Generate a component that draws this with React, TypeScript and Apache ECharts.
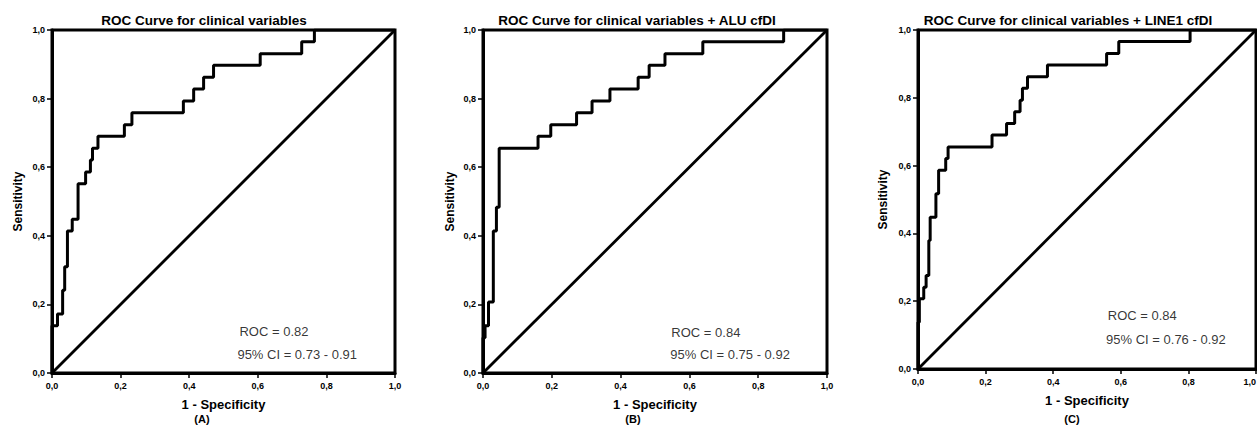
import React, { useEffect, useRef } from "react";
import * as echarts from "echarts";

// ---------- data ----------
const panelTitles = [
  "ROC Curve for clinical variables",
  "ROC Curve for clinical variables + ALU cfDI",
  "ROC Curve for clinical variables + LINE1 cfDI",
];
const panelLetters = ["(A)", "(B)", "(C)"];
const rocTexts = ["ROC = 0.82", "ROC = 0.84", "ROC = 0.84"];
const ciTexts = ["95% CI = 0.73 - 0.91", "95% CI = 0.75 - 0.92", "95% CI = 0.76 - 0.92"];
const tickValues = [0, 0.2, 0.4, 0.6, 0.8, 1.0];

// 1 - Specificity (x) where each rise happens, and Sensitivity (y) after the rise
const fprA = [0, 0, 0.016, 0.031, 0.037, 0.045, 0.059, 0.076, 0.098, 0.112, 0.118, 0.134, 0.211, 0.233, 0.383, 0.413, 0.442, 0.471, 0.607, 0.728, 0.765, 1.0];
const tprA = [0, 0.138, 0.172, 0.241, 0.310, 0.414, 0.448, 0.552, 0.586, 0.621, 0.655, 0.690, 0.724, 0.759, 0.793, 0.828, 0.862, 0.897, 0.931, 0.966, 1.0, 1.0];

const fprB = [0, 0, 0.006, 0.016, 0.030, 0.039, 0.047, 0.160, 0.197, 0.272, 0.317, 0.369, 0.451, 0.483, 0.529, 0.639, 0.874, 1.0];
const tprB = [0, 0.103, 0.138, 0.207, 0.414, 0.483, 0.655, 0.690, 0.724, 0.759, 0.793, 0.828, 0.862, 0.897, 0.931, 0.966, 1.0, 1.0];

const fprC = [0, 0, 0.004, 0.017, 0.024, 0.032, 0.036, 0.053, 0.061, 0.082, 0.089, 0.219, 0.262, 0.286, 0.302, 0.309, 0.324, 0.383, 0.558, 0.594, 0.805, 1.0];
const tprC = [0, 0.138, 0.207, 0.241, 0.276, 0.379, 0.448, 0.517, 0.586, 0.621, 0.655, 0.690, 0.724, 0.759, 0.793, 0.828, 0.862, 0.897, 0.931, 0.966, 1.0, 1.0];

const refLineX = [0, 1];
const refLineY = [0, 1];

// annotation anchors (data coords)
const rocAnchors = [[0.548, 0.12], [0.549, 0.117], [0.563, 0.156]];
const ciAnchors = [[0.542, 0.052], [0.546, 0.052], [0.558, 0.086]];

// ---------- layout ----------
const grids = [
  { left: 52, top: 30, width: 343, height: 343 },
  { left: 483, top: 30, width: 344, height: 343 },
  { left: 918, top: 30, width: 338, height: 339 },
];
const titleCenters = [199, 632, 1063];
const letterCenters = [202, 633, 1072];
const yNameGaps = [28, 27, 29];
const alignMax = [undefined, undefined, "right"];

const FONT = "'Liberation Sans', Arial, Helvetica, sans-serif";

const curves = [
  { x: fprA, y: tprA },
  { x: fprB, y: tprB },
  { x: fprC, y: tprC },
];

function fmt(v: number) {
  return v.toFixed(1).replace(".", ",");
}

export default function App() {
  const ref = useRef<HTMLDivElement | null>(null);

  useEffect(() => {
    if (!ref.current) return;
    const chart = echarts.init(ref.current, null, { renderer: "svg" });

    const xAxis: any[] = [];
    const yAxis: any[] = [];
    const series: any[] = [];
    const title: any[] = [];
    const graphic: any[] = [];

    grids.forEach((g, i) => {
      title.push({
        text: panelTitles[i],
        left: titleCenters[i],
        top: 8,
        textAlign: "center",
        textStyle: { fontFamily: FONT, fontSize: 13.5, fontWeight: "bold", color: "#000" },
      });
      const axisCommon = {
        type: "value",
        min: 0,
        max: 1,
        interval: 0.2,
        gridIndex: i,
        splitLine: { show: false },
        axisLine: { show: true, lineStyle: { color: "#000", width: 3 } },
        axisTick: { show: true, length: 5, lineStyle: { color: "#000", width: 1.5 } },
        axisLabel: {
          formatter: (v: number) => fmt(v),
          fontFamily: FONT,
          fontSize: 9,
          fontWeight: "bold",
          color: "#000",
          showMinLabel: true,
          showMaxLabel: true,
        },
        nameLocation: "middle",
        nameTextStyle: { fontFamily: FONT, fontWeight: "bold", color: "#000" },
      };
      const xLabel: any = { ...axisCommon.axisLabel, margin: 8 };
      if (alignMax[i]) xLabel.alignMaxLabel = alignMax[i];
      xAxis.push({
        ...axisCommon,
        position: "bottom",
        name: "1 - Specificity",
        nameGap: 25,
        nameTextStyle: { ...axisCommon.nameTextStyle, fontSize: 13 },
        axisLabel: xLabel,
      });
      yAxis.push({
        ...axisCommon,
        position: "left",
        name: "Sensitivity",
        nameGap: yNameGaps[i],
        nameTextStyle: { ...axisCommon.nameTextStyle, fontSize: 12 },
        axisLabel: { ...axisCommon.axisLabel, margin: 7 },
      });

      const c = curves[i];
      series.push({
        type: "line",
        xAxisIndex: i,
        yAxisIndex: i,
        step: "end",
        showSymbol: false,
        symbol: "none",
        data: c.x.map((x, k) => [x, c.y[k]]),
        lineStyle: { color: "#000", width: 3 },
        z: 3,
      });
      series.push({
        type: "line",
        xAxisIndex: i,
        yAxisIndex: i,
        showSymbol: false,
        symbol: "none",
        data: refLineX.map((x, k) => [x, refLineY[k]]),
        lineStyle: { color: "#000", width: 2.8 },
        z: 2,
      });
      [
        { a: rocAnchors[i], t: rocTexts[i] },
        { a: ciAnchors[i], t: ciTexts[i] },
      ].forEach((ann) => {
        series.push({
          type: "scatter",
          xAxisIndex: i,
          yAxisIndex: i,
          symbolSize: 1,
          itemStyle: { color: "rgba(0,0,0,0)" },
          data: [ann.a],
          label: {
            show: true,
            position: [0, 0],
            align: "left",
            verticalAlign: "middle",
            formatter: ann.t,
            fontFamily: FONT,
            fontSize: 13,
            color: "#000",
          },
          z: 4,
        });
      });

      graphic.push({
        type: "text",
        x: letterCenters[i],
        y: 419,
        style: {
          text: panelLetters[i],
          fontFamily: FONT,
          fontSize: 11,
          fontWeight: "bold",
          fill: "#000",
          align: "center",
          verticalAlign: "middle",
        },
      });
    });

    chart.setOption({
      animation: false,
      backgroundColor: "#fff",
      title,
      grid: grids.map((g) => ({
        ...g,
        show: true,
        borderColor: "#000",
        borderWidth: 3,
        backgroundColor: "transparent",
        containLabel: false,
        outerBoundsMode: "none",
      })),
      xAxis,
      yAxis,
      series,
      graphic,
    });

    return () => chart.dispose();
  }, []);

  return (
    <div
      ref={ref}
      style={{ position: "absolute", left: 0, top: 0, width: 1257, height: 425, background: "#fff" }}
    />
  );
}
